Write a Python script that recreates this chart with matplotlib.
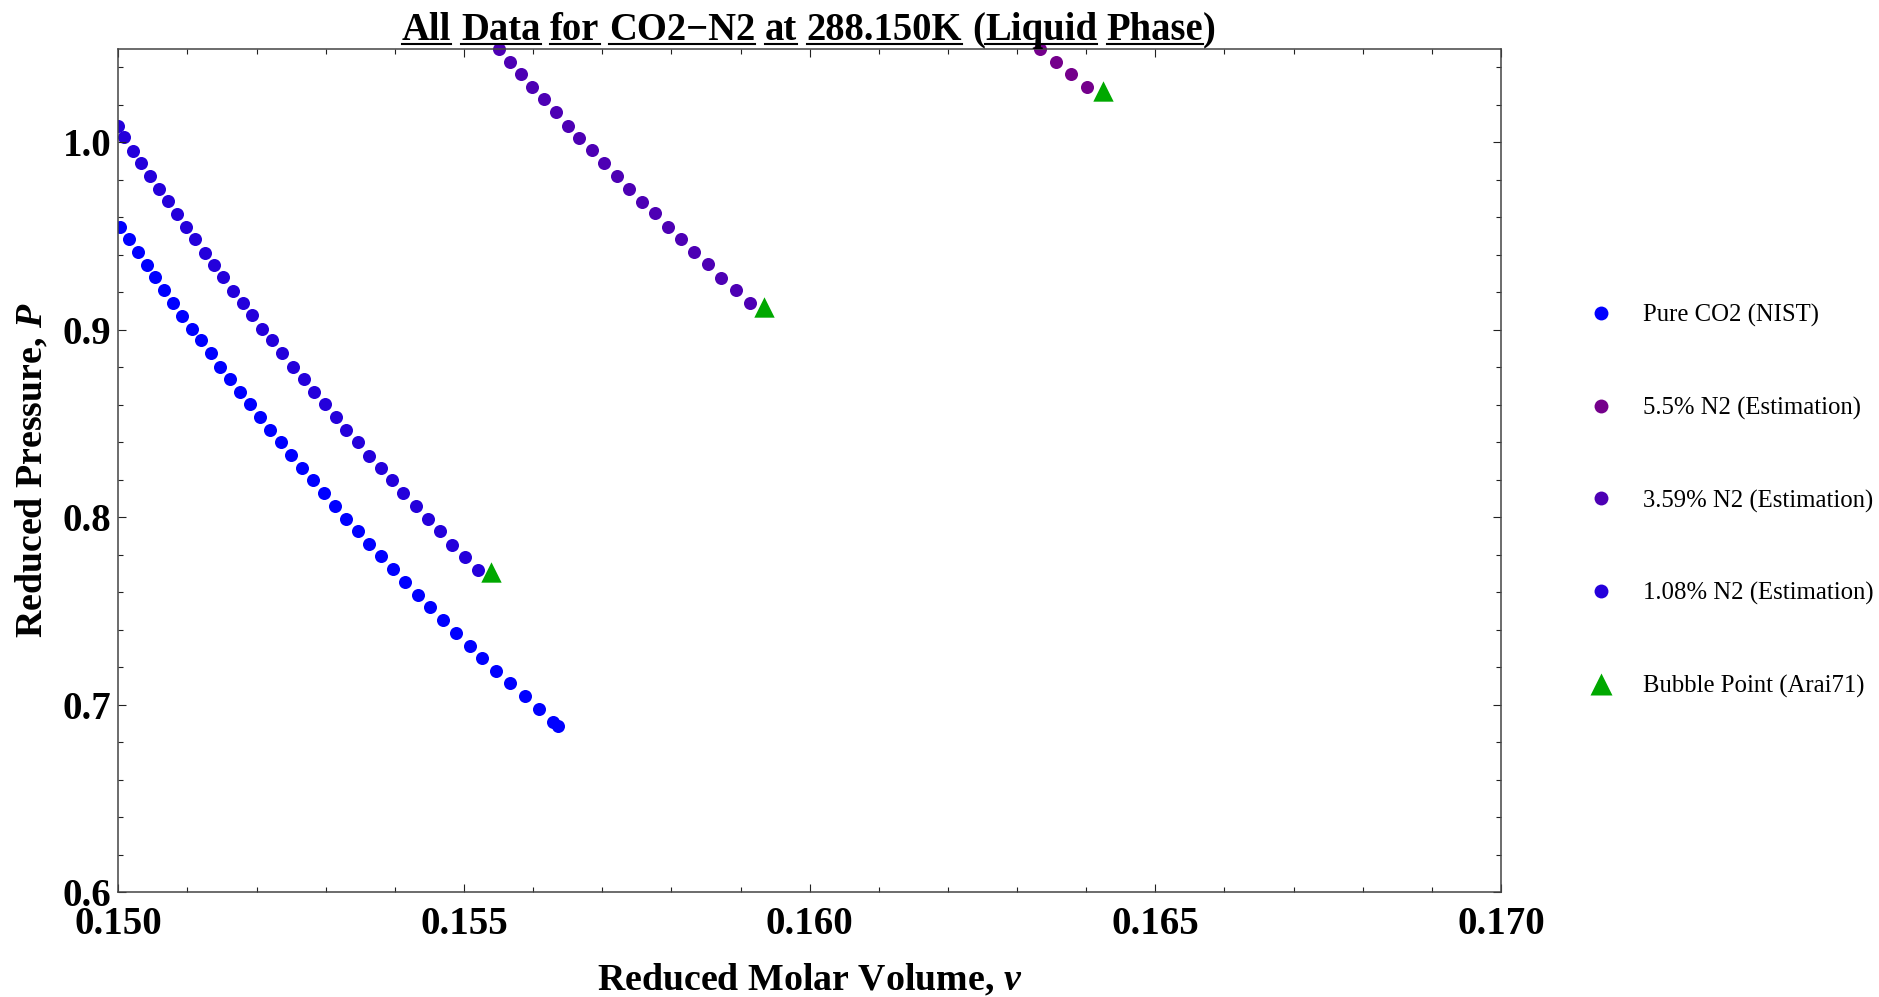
import matplotlib
matplotlib.use("Agg")
import matplotlib.pyplot as plt
from matplotlib.ticker import MultipleLocator, FormatStrFormatter
from matplotlib.transforms import Bbox, TransformedBbox
from matplotlib.lines import Line2D

plt.rcParams["mathtext.fontset"] = "custom"
plt.rcParams["mathtext.rm"] = "Liberation Serif:bold"
plt.rcParams["mathtext.it"] = "Liberation Serif:italic:bold"
plt.rcParams["mathtext.bf"] = "Liberation Serif:bold"

# Pure CO2 (NIST)
pure_v = [0.15003, 0.15016, 0.15028, 0.15041, 0.15053, 0.15066, 0.15079, 0.15092,
          0.15106, 0.15119, 0.15134, 0.15147, 0.15162, 0.15176, 0.15191, 0.15205,
          0.15220, 0.15235, 0.15250, 0.15265, 0.15281, 0.15297, 0.15313, 0.15329,
          0.15346, 0.15363, 0.15380, 0.15397, 0.15415, 0.15433, 0.15451, 0.15469,
          0.15488, 0.15508, 0.15526, 0.15546, 0.15567, 0.15588, 0.15608, 0.15629,
          0.15636]
pure_p = [0.9550, 0.9483, 0.9414, 0.9347, 0.9280, 0.9211, 0.9145, 0.9075,
          0.9006, 0.8944, 0.8875, 0.8803, 0.8736, 0.8670, 0.8603, 0.8533,
          0.8467, 0.8400, 0.8330, 0.8264, 0.8197, 0.8128, 0.8058, 0.7992,
          0.7925, 0.7855, 0.7791, 0.7721, 0.7653, 0.7585, 0.7519, 0.7450,
          0.7382, 0.7314, 0.7247, 0.7179, 0.7114, 0.7044, 0.6977, 0.6906,
          0.6887]

# 1.08% N2 (Estimation)
n108_v = [0.15000, 0.15008, 0.15021, 0.15033, 0.15046, 0.15059, 0.15072, 0.15085,
          0.15098, 0.15111, 0.15125, 0.15138, 0.15152, 0.15166, 0.15180, 0.15194,
          0.15208, 0.15223, 0.15237, 0.15252, 0.15268, 0.15283, 0.15299, 0.15315,
          0.15330, 0.15346, 0.15363, 0.15380, 0.15396, 0.15412, 0.15430, 0.15448,
          0.15465, 0.15483, 0.15502, 0.15520]
n108_p = [1.0088, 1.0027, 0.9956, 0.9888, 0.9821, 0.9753, 0.9686, 0.9620,
          0.9550, 0.9483, 0.9411, 0.9347, 0.9280, 0.9209, 0.9145, 0.9077,
          0.9006, 0.8944, 0.8875, 0.8803, 0.8736, 0.8670, 0.8603, 0.8533,
          0.8467, 0.8400, 0.8328, 0.8264, 0.8197, 0.8128, 0.8058, 0.7992,
          0.7925, 0.7853, 0.7789, 0.7720]

# 3.59% N2 (Estimation)
n359_v = [0.15550, 0.15566, 0.15583, 0.15599, 0.15616, 0.15633, 0.15650, 0.15667,
          0.15685, 0.15703, 0.15721, 0.15739, 0.15758, 0.15776, 0.15795, 0.15814,
          0.15833, 0.15853, 0.15872, 0.15893, 0.15913]
n359_p = [1.0498, 1.0431, 1.0363, 1.0297, 1.0230, 1.0161, 1.0089, 1.0025,
          0.9958, 0.9888, 0.9822, 0.9753, 0.9684, 0.9622, 0.9550, 0.9483,
          0.9414, 0.9350, 0.9278, 0.9211, 0.9145]

# 5.5% N2 (Estimation)
n55_v = [0.16333, 0.16356, 0.16378, 0.16401]
n55_p = [1.0498, 1.0431, 1.0363, 1.0297]

# Bubble points (Arai71)
bub_v = [0.15539, 0.15934, 0.16424]
bub_p = [0.7709, 0.9120, 1.0276]

labels = ["Pure CO2 (NIST)", "5.5% N2 (Estimation)", "3.59% N2 (Estimation)",
          "1.08% N2 (Estimation)", "Bubble Point (Arai71)"]

W, H = 1879, 997
fig = plt.figure(figsize=(W / 100, H / 100), dpi=100)
ax = fig.add_axes([0.06296, 0.10532, 0.73587, 0.84583])

serif = "Liberation Serif"

dot = 88
c_pure = "#0000FF"
c_108 = "#2400DB"
c_359 = "#4D00B4"
c_55 = "#74008B"
c_bub = "#00A800"

# clip a little above the frame so the top dots are not cut in half
clip = TransformedBbox(Bbox([[0, 0], [1, 1.015]]), ax.transAxes)

s1 = ax.scatter(pure_v, pure_p, s=dot, color=c_pure, linewidths=0)
s4 = ax.scatter(n108_v, n108_p, s=dot, color=c_108, linewidths=0)
s3 = ax.scatter(n359_v, n359_p, s=dot, color=c_359, linewidths=0)
s2 = ax.scatter(n55_v, n55_p, s=dot, color=c_55, linewidths=0)
s5 = ax.scatter(bub_v, bub_p, s=215, marker="^", color=c_bub, linewidths=0)
for s in (s1, s2, s3, s4, s5):
    s.set_clip_box(clip)

ax.set_xlim(0.150, 0.170)
ax.set_ylim(0.6, 1.05)
ax.xaxis.set_major_locator(MultipleLocator(0.005))
ax.xaxis.set_minor_locator(MultipleLocator(0.001))
ax.yaxis.set_major_locator(MultipleLocator(0.1))
ax.yaxis.set_minor_locator(MultipleLocator(0.02))
ax.xaxis.set_major_formatter(FormatStrFormatter("%.3f"))
ax.yaxis.set_major_formatter(FormatStrFormatter("%.1f"))

ax.tick_params(which="both", direction="in", top=True, right=True, width=0.8, color="#222222")
ax.tick_params(which="major", length=5.5, labelsize=28)
ax.tick_params(axis="x", which="major", pad=10)
ax.tick_params(axis="y", which="major", pad=5)
ax.tick_params(which="minor", length=3.6)
for lab in ax.get_xticklabels() + ax.get_yticklabels():
    lab.set_fontfamily(serif)
    lab.set_fontweight("bold")
for sp in ax.spines.values():
    sp.set_color("#444444")
    sp.set_linewidth(1.1)

ax.set_xlabel("Reduced Molar Volume, $v$", fontsize=27.3, fontfamily=serif,
              fontweight="bold", labelpad=14)
ax.set_ylabel("Reduced Pressure, $P$", fontsize=27.3, fontfamily=serif,
              fontweight="bold", labelpad=9)

# legend with slightly larger dots than the plot
handles = [Line2D([], [], ls="none", marker="o", ms=10, color=c, mec="none")
           for c in (c_pure, c_55, c_359, c_108)]
handles.append(Line2D([], [], ls="none", marker="^", ms=15.5, color=c_bub, mec="none"))
fig.legend(handles, labels, loc="center left",
           bbox_to_anchor=(0.8427, 0.4975), frameon=False,
           prop={"family": serif, "size": 17.8}, borderpad=0, borderaxespad=0,
           handlelength=1.4, handletextpad=1.0, labelspacing=2.82, numpoints=1)

# title, every word underlined on its own (parentheses left out)
title_words = ["All", "Data", "for", "CO2\u2212N2", "at", "288.150K", "(Liquid", "Phase)"]
tkw = dict(fontsize=27.8, fontfamily=serif, fontweight="bold")
rend = fig.canvas.get_renderer()


def text_w(s):
    t = fig.text(0, 0, s, **tkw)
    w = t.get_window_extent(rend).width
    t.remove()
    return w


space = text_w("a a") - text_w("aa")
pieces = []
for w in title_words:
    pre = "(" if w.startswith("(") else ""
    post = ")" if w.endswith(")") else ""
    pieces.append((pre, w[len(pre):len(w) - len(post)], post))
total = sum(text_w(a + b + c) for a, b, c in pieces) + space * (len(pieces) - 1)

base_y = H - 40
x = 809 - total / 2
for pre, core, post in pieces:
    for s, ul in ((pre, False), (core, True), (post, False)):
        if not s:
            continue
        fig.text(x / W, base_y / H, s, va="baseline", ha="left", **tkw)
        sw = text_w(s)
        if ul:
            fig.add_artist(Line2D([x / W, (x + sw) / W], [(base_y - 4) / H] * 2,
                                  transform=fig.transFigure, color="black", lw=1.5))
        x += sw
    x += space

fig.savefig("out.png", dpi=100)
